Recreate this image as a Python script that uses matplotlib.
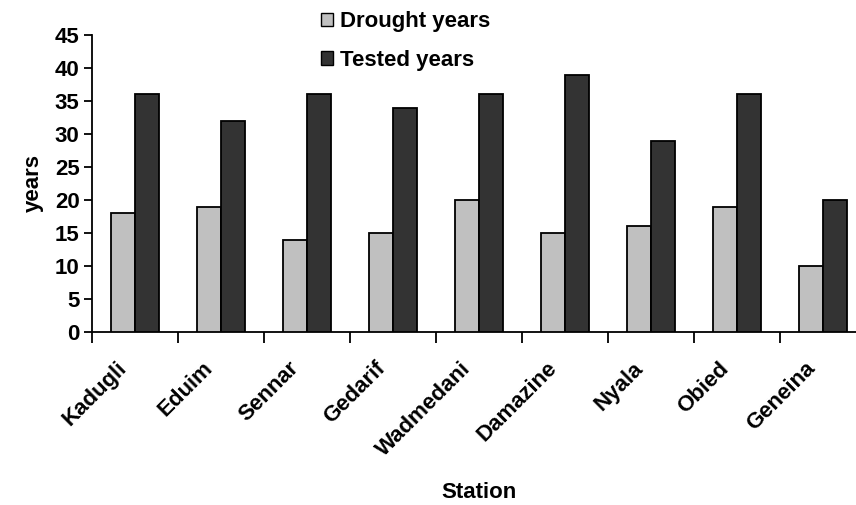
import matplotlib
matplotlib.use("Agg")
import matplotlib.pyplot as plt
import numpy as np
from matplotlib.patches import Patch

stations = ["Kadugli", "Eduim", "Sennar", "Gedarif", "Wadmedani",
            "Damazine", "Nyala", "Obied", "Geneina"]
drought_years = [18, 19, 14, 15, 20, 15, 16, 19, 10]
tested_years = [36, 32, 36, 34, 36, 39, 29, 36, 20]
y_ticks = [0, 5, 10, 15, 20, 25, 30, 35, 40, 45]

plt.rcParams["font.family"] = ["Liberation Sans", "DejaVu Sans"]
plt.rcParams["font.weight"] = "bold"

W, H = 856, 505
fig = plt.figure(figsize=(W / 100, H / 100), dpi=100)
left, right, top, bottom = 92, 866, 35, 332
ax = fig.add_axes([left / W, (H - bottom) / H, (right - left) / W, (bottom - top) / H])

x = np.arange(len(stations))
bw = 0.28
light = "#c0c0c0"
dark = "#333333"
ax.bar(x - bw / 2, drought_years, bw, color=light, edgecolor="black", linewidth=1.3, zorder=3)
ax.bar(x + bw / 2, tested_years, bw, color=dark, edgecolor="black", linewidth=1.3, zorder=3)

ax.set_xlim(-0.5, len(stations) - 0.5)
ax.set_ylim(0, 45)
ax.set_yticks(y_ticks)
ax.tick_params(axis="y", length=6, width=1.3, labelsize=16, pad=3)

# category boundary ticks below the axis, labels centred under each group
ax.set_xticks(np.arange(len(stations) + 1) - 0.5)
ax.set_xticklabels([])
ax.tick_params(axis="x", length=8, width=1.3)
for xi, name in zip(x, stations):
    ax.annotate(name, xy=(xi, 0), xycoords="data", xytext=(-8, -24),
                textcoords="offset points", rotation=45, ha="right", va="center",
                rotation_mode="anchor", fontsize=16, fontweight="bold")

for side in ("top", "right"):
    ax.spines[side].set_visible(False)
for side in ("left", "bottom"):
    ax.spines[side].set_linewidth(1.3)

ax.set_ylabel("years", fontsize=16, fontweight="bold", labelpad=8)
fig.text((left + right) / 2 / W, 1 - 493 / H, "Station", ha="center", va="center",
         fontsize=16, fontweight="bold")

handles = [Patch(facecolor=light, edgecolor="black", linewidth=1.0),
           Patch(facecolor=dark, edgecolor="black", linewidth=1.0)]
fig.legend(handles, ["Drought years", "Tested years"], loc="upper left",
           bbox_to_anchor=(310 / W, 1.0), frameon=False, fontsize=16,
           handlelength=0.55, handleheight=0.55, handletextpad=0.3,
           labelspacing=0.8, borderaxespad=0.1)

fig.savefig("out.png", dpi=100)
